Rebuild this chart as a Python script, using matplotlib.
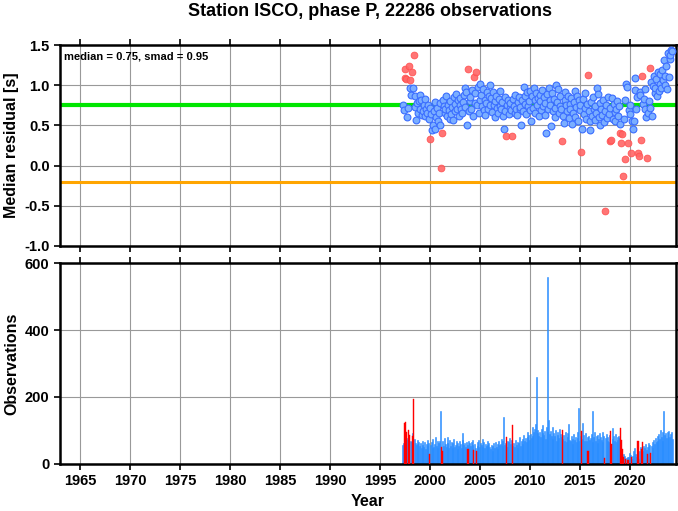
import numpy as np
import pandas as pd
import matplotlib
matplotlib.use('Agg')
import matplotlib.pyplot as plt

plt.rcParams['font.family'] = ['Liberation Sans', 'DejaVu Sans']

# Monthly median residuals [s], April 1997 .. March 2024
resid = [
    # 1997 (Apr-Dec)
    0.75, 0.69, 1.09, 1.20, 1.08, 0.60, 0.72, 1.24, 1.06,
    # 1998
    0.96, 0.88, 1.17, 0.97, 1.38, 0.86, 0.73, 0.57, 0.78, 0.66, 0.80, 0.71,
    # 1999
    0.88, 0.82, 0.63, 0.68, 0.76, 0.62, 0.83, 0.70, 0.66, 0.75, 0.58, 0.335,
    # 2000
    0.72, 0.64, 0.44, 0.50, 0.68, 0.79, 0.46, 0.60, 0.72, 0.55, 0.66, 0.78,
    # 2001
    0.51, -0.03, 0.41, 0.82, 0.74, 0.65, 0.70, 0.87, 0.62, 0.76, 0.69, 0.58,
    # 2002
    0.80, 0.64, 0.73, 0.57, 0.85, 0.68, 0.77, 0.89, 0.70, 0.82, 0.62, 0.75,
    # 2003
    0.84, 0.71, 0.66, 0.79, 0.88, 0.96, 0.73, 0.92, 0.51, 1.20, 0.68, 0.80,
    # 2004
    0.85, 0.70, 0.94, 0.62, 1.10, 0.78, 0.90, 1.17, 0.75, 0.98, 0.66, 0.82,
    # 2005
    1.01, 0.88, 0.74, 0.95, 0.69, 0.82, 0.63, 0.78, 0.92, 0.71, 0.86, 0.76,
    # 2006
    1.00, 0.84, 0.67, 0.91, 0.75, 0.80, 0.60, 0.87, 0.72, 0.65, 0.83, 0.74,
    # 2007
    0.93, 0.70, 0.79, 0.62, 0.46, 0.85, 0.68, 0.37, 0.76, 0.81, 0.64, 0.72,
    # 2008
    0.78, 0.69, 0.37, 0.83, 0.74, 0.66, 0.88, 0.71, 0.63, 0.79, 0.85, 0.70,
    # 2009
    0.73, 0.50, 0.82, 0.68, 0.98, 0.77, 0.86, 0.64, 0.91, 0.74, 0.80, 0.69,
    # 2010
    0.93, 0.55, 0.87, 0.72, 0.96, 0.81, 0.66, 0.90, 0.76, 0.84, 0.62, 0.88,
    # 2011
    0.80, 0.69, 0.94, 0.74, 0.85, 0.63, 0.78, 0.41, 0.89, 0.71, 0.97, 0.82,
    # 2012
    0.76, 0.49, 0.90, 0.68, 0.83, 0.72, 0.61, 1.00, 0.79, 0.95, 0.66, 0.74,
    # 2013
    0.86, 0.70, 0.31, 0.62, 0.53, 0.81, 0.92, 0.75, 0.68, 0.87, 0.59, 0.77,
    # 2014
    0.71, 0.84, 0.52, 0.66, 0.79, 0.93, 0.60, 0.73, 0.86, 0.56, 0.81, 0.69,
    # 2015
    0.75, 0.165, 0.46, 0.83, 0.64, 0.72, 0.90, 0.58, 0.77, 1.13, 0.68, 0.55,
    # 2016
    0.44, 0.79, 0.62, 0.85, 0.71, 0.57, 0.74, 0.66, 0.96, 0.89, 0.60, 0.78,
    # 2017
    0.50, 0.70, 0.63, 0.82, 0.54, -0.57, 0.68, 0.76, 0.59, 0.85, 0.64, 0.72,
    # 2018
    0.31, 0.32, 0.84, 0.58, 0.77, 0.67, 0.55, 0.71, 0.80, 0.62, 0.74, 0.52,
    # 2019
    0.41, 0.28, 0.39, -0.125, 0.58, 0.82, 0.08, 1.02, 0.98, 0.28, 0.69, 0.64,
    # 2020
    0.75, 0.16, 0.55, 0.46, 0.55, 1.09, 0.94, 0.70, 0.85, 0.16, 0.12, 0.92,
    # 2021
    0.88, 0.32, 1.11, 0.77, 0.83, 0.70, 0.95, 0.61, 0.10, 0.66, 0.80, 0.72,
    # 2022
    1.22, 1.04, 0.62, 0.99, 1.11, 0.90, 0.96, 1.08, 0.86, 1.17, 0.93, 1.01,
    # 2023
    1.14, 0.97, 1.19, 1.06, 1.31, 1.00, 1.12, 1.24, 0.95, 1.40, 1.10, 1.33,
    # 2024 (Jan-Mar)
    1.38, 1.44, 1.42,
]

# Number of observations per month
counts = [
    57, 62, 121, 125, 95, 77, 72, 101, 88,
    70, 66, 85, 92, 194, 75, 64, 58, 71, 60, 66, 55,
    62, 48, 70, 58, 52, 66, 45, 60, 72, 54, 63, 30,
    58, 66, 47, 74, 52, 61, 80, 55, 49, 68, 62, 70,
    158, 52, 40, 68, 55, 77, 60, 50, 82, 63, 48, 71,
    55, 66, 47, 62, 75, 51, 58, 70, 44, 63, 55, 68,
    60, 48, 72, 94, 56, 63, 50, 67, 58, 45, 70, 62,
    53, 66, 58, 71, 42, 60, 49, 38, 65, 55, 72, 50,
    63, 58, 74, 52, 66, 48, 61, 55, 70, 57, 64, 50,
    46, 58, 40, 55, 62, 48, 66, 52, 59, 44, 70, 56,
    61, 75, 54, 68, 141, 58, 63, 82, 70, 52, 66, 78,
    60, 71, 116, 55, 64, 50, 72, 58, 66, 47, 62, 80,
    55, 68, 74, 60, 88, 70, 77, 65, 82, 95, 87, 72,
    90, 78, 110, 84, 96, 105, 120, 261, 92, 100, 85, 95,
    80, 105, 92, 115, 88, 98, 76, 110, 96, 557, 130, 90,
    98, 85, 110, 75, 92, 83, 100, 70, 88, 95, 78, 105,
    90, 82, 100, 75, 88, 70, 95, 65, 80, 92, 120, 72,
    68, 85, 75, 60, 90, 72, 80, 66, 95, 78, 166, 70,
    84, 97, 121, 75, 88, 68, 92, 70, 80, 40, 85, 72,
    78, 90, 66, 158, 80, 95, 70, 85, 62, 88, 75, 92,
    80, 72, 95, 66, 85, 17, 78, 90, 70, 82, 65, 88,
    98, 60, 108, 75, 85, 70, 90, 66, 80, 72, 85, 78,
    106, 72, 45, 20, 30, 25, 15, 18, 22, 12, 20, 34,
    28, 20, 16, 25, 40, 47, 30, 22, 35, 69, 15, 40,
    52, 45, 67, 38, 55, 48, 60, 42, 30, 50, 62, 58,
    32, 55, 67, 48, 72, 60, 78, 65, 85, 70, 90, 75,
    100, 82, 95, 70, 159, 88, 92, 78, 96, 85, 98, 80,
    90, 95, 75,
]

# Months flagged as outliers (drawn in red)
flagged = [
    '1997-06', '1997-07', '1997-08', '1997-11', '1997-12', '1998-03', '1998-05',
    '1999-12', '2001-02', '2001-03', '2003-10', '2004-05', '2004-08',
    '2007-08', '2008-03', '2013-03', '2015-02', '2015-10', '2017-06',
    '2018-01', '2018-02', '2019-01', '2019-02', '2019-03', '2019-04',
    '2019-07', '2019-10', '2020-02', '2020-10', '2020-11', '2021-02',
    '2021-03', '2021-09', '2022-01',
]

station_median = 0.75
station_smad = 0.95
ref_level = -0.2
n_obs = 22286

months = pd.period_range('1997-04', periods=len(resid), freq='M')
t = months.year + (months.month - 0.5) / 12.0
is_red = np.isin(months.strftime('%Y-%m'), flagged)
resid = np.array(resid)
counts = np.array(counts)

fig = plt.figure(figsize=(6.78, 5.11), dpi=100)
ax1 = fig.add_axes([0.0885, 0.5186, 0.9086, 0.3933])
ax2 = fig.add_axes([0.0885, 0.092, 0.9086, 0.3933])

for ax in (ax1, ax2):
    ax.set_xlim(1963.0, 2024.6)
    ax.set_xticks(np.arange(1965, 2021, 5))
    ax.grid(True, color='#999999', linewidth=0.8)
    ax.set_axisbelow(True)
    for s in ax.spines.values():
        s.set_linewidth(1.8)
    ax.tick_params(direction='out', length=4, width=1.2, top=True, right=True,
                   labelsize=10.5)

# top panel
ax1.axhline(station_median, color='#00e600', linewidth=3, zorder=2)
ax1.axhline(ref_level, color='#ffa500', linewidth=2.2, zorder=2)
ax1.scatter(t[~is_red], resid[~is_red], s=24, facecolor='#7aaeff',
            edgecolor='#3a6dff', linewidth=0.8, zorder=3)
ax1.scatter(t[is_red], resid[is_red], s=24, facecolor='#ff6666',
            edgecolor='#ff4d4d', linewidth=0.6, alpha=0.9, zorder=3)
ax1.set_ylim(-1.0, 1.5)
ax1.set_yticks(np.arange(-1.0, 1.51, 0.5))
ax1.set_yticklabels([f'{v:.1f}' for v in np.arange(-1.0, 1.51, 0.5)],
                    fontweight='bold')
ax1.set_xticklabels([])
ax1.set_ylabel('Median residual [s]', fontsize=11.5, fontweight='bold')
ax1.text(0.006, 0.97, f'median = {station_median:.2f}, smad = {station_smad:.2f}',
         transform=ax1.transAxes, ha='left', va='top', fontsize=8,
         fontweight='bold')

# bottom panel
ax2.bar(t[~is_red], counts[~is_red], width=0.09, color='#2a8eff',
        edgecolor='#2a8eff', linewidth=0.4, zorder=2)
ax2.bar(t[is_red], counts[is_red], width=0.12, color='#ff0000',
        edgecolor='#ff0000', linewidth=0.3, zorder=3)
ax2.set_ylim(0, 600)
ax2.set_yticks([0, 200, 400, 600])
ax2.set_yticklabels(['0', '200', '400', '600'], fontweight='bold')
ax2.set_xticklabels([str(y) for y in range(1965, 2021, 5)], fontweight='bold')
ax2.set_ylabel('Observations', fontsize=11.5, fontweight='bold')
ax2.set_xlabel('Year', fontsize=11.5, fontweight='bold')

fig.suptitle(f'Station ISCO, phase P, {n_obs} observations', x=0.545, y=0.995,
             fontsize=13, fontweight='bold')

fig.savefig('out.png', dpi=100)
